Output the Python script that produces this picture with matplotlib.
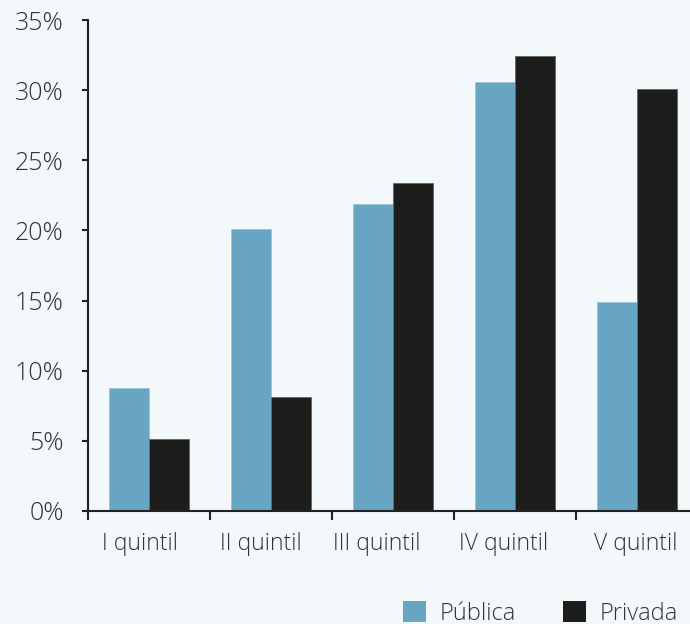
import matplotlib.pyplot as plt
import numpy as np
from matplotlib.patches import Patch

plt.rcParams['font.family'] = ['Open Sans', 'DejaVu Sans']
plt.rcParams['font.weight'] = 'light'

quintiles = ["I quintil", "II quintil", "III quintil", "IV quintil", "V quintil"]
publica = [8.8, 20.1, 21.9, 30.6, 14.9]
privada = [5.1, 8.1, 23.4, 32.4, 30.1]
label_shift = [-0.07, -0.08, -0.13, -0.09, -0.01]

BG = "#f3f8fb"
BLUE = "#68a5c2"
BLACK = "#1d1d1b"
TEXT = "#333333"
AXIS = "#222222"

fig = plt.figure(figsize=(6.9, 6.24), dpi=100, facecolor=BG)
ax = fig.add_axes([88 / 690, 113 / 624, 602 / 690, 491 / 624], facecolor=BG)

x = np.arange(len(quintiles))
w = 0.33
ax.bar(x - w / 2, publica, w, color=BLUE, edgecolor="#9cc6da", linewidth=0.7)
ax.bar(x + w / 2, privada, w, color=BLACK, edgecolor="#6a6a6a", linewidth=0.7)

ax.set_xlim(-0.5, 4.435)
ax.set_ylim(0, 35)

for side in ["top", "right"]:
    ax.spines[side].set_visible(False)
for side in ["left", "bottom"]:
    ax.spines[side].set_color(AXIS)
    ax.spines[side].set_linewidth(1.5)

ax.set_yticks(range(0, 36, 5))
ax.set_yticklabels([f"{v}%" for v in range(0, 36, 5)])
ax.tick_params(axis="y", length=4.5, width=1.5, color=AXIS, pad=13,
               labelsize=18, labelcolor=TEXT)

ax.set_xticks(x + np.array(label_shift))
ax.set_xticklabels(quintiles)
ax.set_xticks(np.arange(-0.5, 4.0, 1.0), minor=True)
ax.tick_params(axis="x", which="major", length=0, pad=15,
               labelsize=16.5, labelcolor=TEXT)
ax.tick_params(axis="x", which="minor", length=6.5, width=1.5, color=AXIS)

handles = [Patch(facecolor=BLUE, label="Pública"),
           Patch(facecolor=BLACK, label="Privada")]
fig.legend(handles=handles, loc="center", bbox_to_anchor=(0.783, 0.017),
           ncol=2, frameon=False, fontsize=17, labelcolor=TEXT,
           handlelength=1.0, handleheight=1.0, handletextpad=0.55,
           columnspacing=2.0)

fig.savefig("out.png", dpi=100, facecolor=BG)
